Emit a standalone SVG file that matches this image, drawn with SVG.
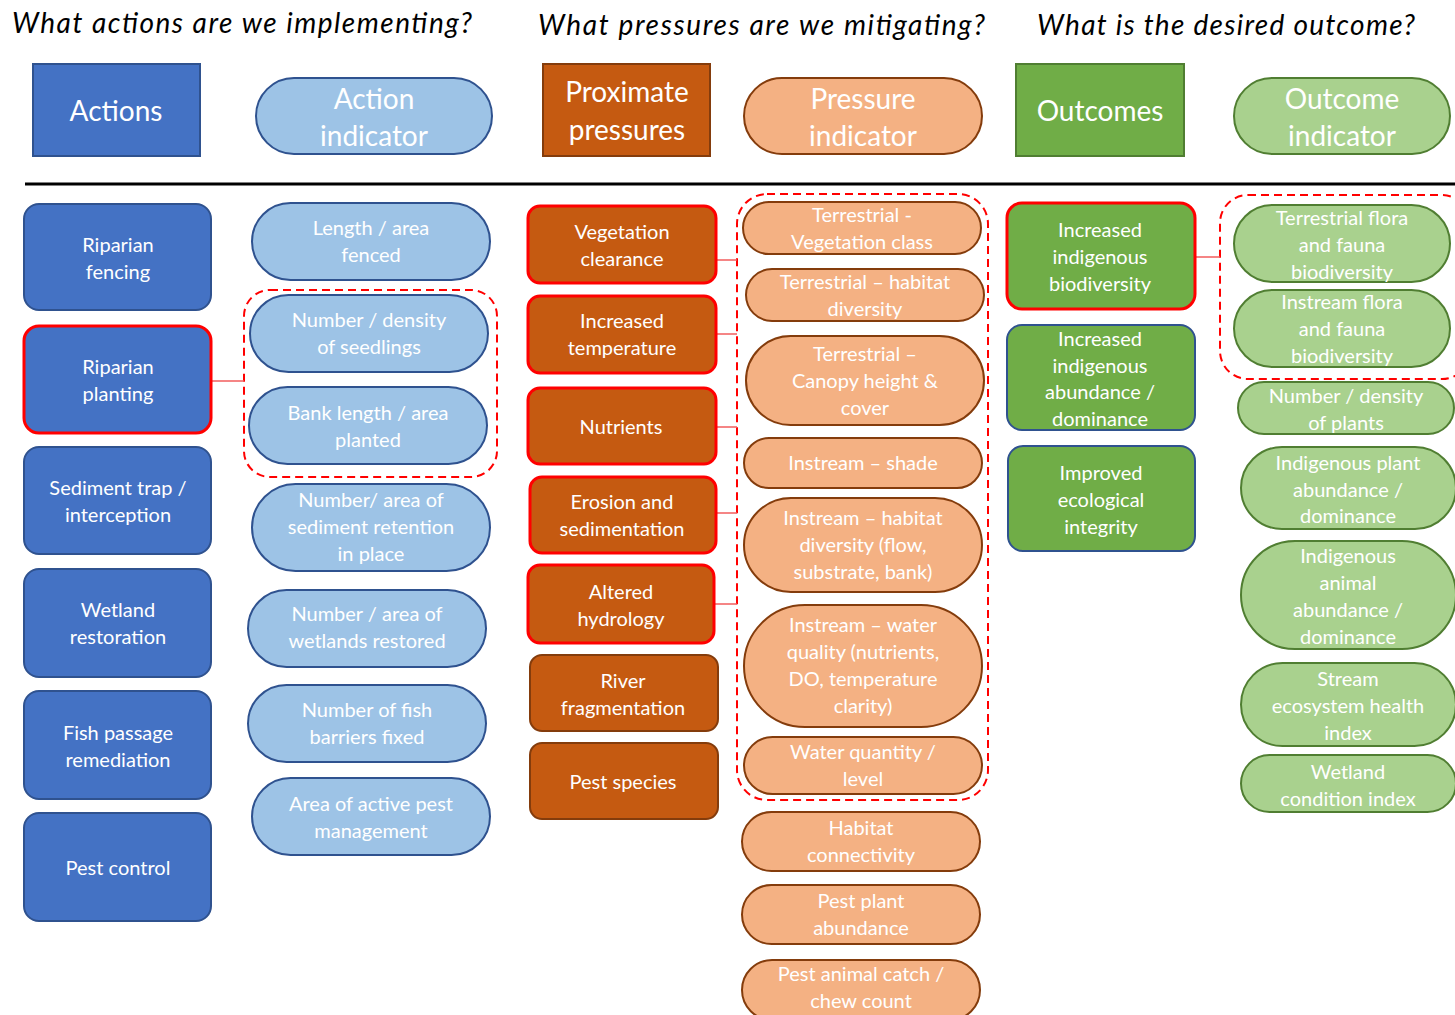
<svg xmlns="http://www.w3.org/2000/svg" width="1455" height="1015" viewBox="0 0 1455 1015">
<style>
.t{font-family:Lato,"Noto Sans","Liberation Sans",sans-serif;fill:#fff;text-anchor:middle;font-size:20px}
.h{font-size:28px}
.q{font-family:Lato,"Noto Sans","Liberation Sans",sans-serif;font-style:italic;font-size:28px;fill:#000}
.act{fill:#4472C4;stroke:#2F528F;stroke-width:2}
.ai{fill:#9DC3E6;stroke:#2F528F;stroke-width:2}
.pp{fill:#C55A11;stroke:#843C0C;stroke-width:2}
.pi{fill:#F4B183;stroke:#843C0C;stroke-width:2}
.oc{fill:#70AD47;stroke:#507E32;stroke-width:2}
.oi{fill:#A9D18E;stroke:#507E32;stroke-width:2}
.red{stroke:#FF0000;stroke-width:3}
.blu{stroke:#2F528F}
.grp{fill:none;stroke:#FF0000;stroke-width:2;stroke-dasharray:8 5}
.con{stroke:#F25C5C;stroke-width:1.5;fill:none}
</style>
<rect width="1455" height="1015" fill="#fff"/>
<g id="questions">
<text class="q" x="12" y="33" textLength="460" lengthAdjust="spacing">What actions are we implementing?</text>
<text class="q" x="538" y="35" textLength="447" lengthAdjust="spacing">What pressures are we mitigating?</text>
<text class="q" x="1037" y="35" textLength="378" lengthAdjust="spacing">What is the desired outcome?</text>
</g>
<g id="hdr-actions"><rect class="act" x="33" y="64" width="167" height="92"/><text class="t h" x="116" y="121">Actions</text></g>
<g id="hdr-action-indicator"><rect class="ai" x="256" y="78" width="236" height="76" rx="38"/><text class="t h"><tspan x="374" y="109">Action</tspan><tspan x="374" y="146">indicator</tspan></text></g>
<g id="hdr-proximate"><rect class="pp" x="543" y="64" width="167" height="92"/><text class="t h"><tspan x="627" y="102">Proximate</tspan><tspan x="627" y="140">pressures</tspan></text></g>
<g id="hdr-pressure-indicator"><rect class="pi" x="744" y="78" width="238" height="76" rx="38"/><text class="t h"><tspan x="863" y="109">Pressure</tspan><tspan x="863" y="146">indicator</tspan></text></g>
<g id="hdr-outcomes"><rect class="oc" x="1016" y="64" width="168" height="92"/><text class="t h" x="1100" y="121">Outcomes</text></g>
<g id="hdr-outcome-indicator"><rect class="oi" x="1234" y="78" width="216" height="76" rx="38"/><text class="t h"><tspan x="1342" y="109">Outcome</tspan><tspan x="1342" y="146">indicator</tspan></text></g>
<line x1="25" y1="184" x2="1455" y2="184" stroke="#000" stroke-width="3"/>

<g id="connectors">
<rect class="grp" x="244" y="290" width="253" height="187" rx="26"/>
<rect class="grp" x="737" y="194" width="251" height="606" rx="30"/>
<rect class="grp" x="1220" y="195" width="250" height="184" rx="28"/>
<line class="con" x1="212" y1="381" x2="244" y2="381"/>
<line class="con" x1="717" y1="260" x2="737" y2="260"/>
<line class="con" x1="717" y1="334" x2="737" y2="334"/>
<line class="con" x1="717" y1="427" x2="737" y2="427"/>
<line class="con" x1="717" y1="513" x2="737" y2="513"/>
<line class="con" x1="715" y1="604" x2="737" y2="604"/>
<line class="con" x1="1196" y1="257" x2="1220" y2="257"/>
</g>

<g id="a1"><rect class="act" x="24" y="204" width="187" height="106" rx="15"/><text class="t"><tspan x="118" y="252">Riparian</tspan><tspan x="118" y="279">fencing</tspan></text></g>
<g id="a2"><rect class="act red" x="24" y="326" width="187" height="107" rx="15"/><text class="t"><tspan x="118" y="374">Riparian</tspan><tspan x="118" y="401">planting</tspan></text></g>
<g id="a3"><rect class="act" x="24" y="447" width="187" height="107" rx="15"/><text class="t"><tspan x="118" y="495">Sediment trap /</tspan><tspan x="118" y="522">interception</tspan></text></g>
<g id="a4"><rect class="act" x="24" y="569" width="187" height="108" rx="15"/><text class="t"><tspan x="118" y="617">Wetland</tspan><tspan x="118" y="644">restoration</tspan></text></g>
<g id="a5"><rect class="act" x="24" y="691" width="187" height="108" rx="15"/><text class="t"><tspan x="118" y="740">Fish passage</tspan><tspan x="118" y="767">remediation</tspan></text></g>
<g id="a6"><rect class="act" x="24" y="813" width="187" height="108" rx="15"/><text class="t" x="118" y="875">Pest control</text></g>

<g id="ai1"><rect class="ai" x="252" y="203" width="238" height="77" rx="38.5"/><text class="t"><tspan x="371" y="235">Length / area</tspan><tspan x="371" y="262">fenced</tspan></text></g>
<g id="ai2"><rect class="ai" x="250" y="295" width="238" height="77" rx="38.5"/><text class="t"><tspan x="369" y="327">Number / density</tspan><tspan x="369" y="354">of seedlings</tspan></text></g>
<g id="ai3"><rect class="ai" x="249" y="387" width="238" height="77" rx="38.5"/><text class="t"><tspan x="368" y="420">Bank length / area</tspan><tspan x="368" y="447">planted</tspan></text></g>
<g id="ai4"><rect class="ai" x="252" y="484" width="238" height="87" rx="43.5"/><text class="t"><tspan x="371" y="507">Number/ area of</tspan><tspan x="371" y="534">sediment retention</tspan><tspan x="371" y="561">in place</tspan></text></g>
<g id="ai5"><rect class="ai" x="248" y="590" width="238" height="77" rx="38.5"/><text class="t"><tspan x="367" y="621">Number / area of</tspan><tspan x="367" y="648">wetlands restored</tspan></text></g>
<g id="ai6"><rect class="ai" x="248" y="685" width="238" height="77" rx="38.5"/><text class="t"><tspan x="367" y="717">Number of fish</tspan><tspan x="367" y="744">barriers fixed</tspan></text></g>
<g id="ai7"><rect class="ai" x="252" y="778" width="238" height="77" rx="38.5"/><text class="t"><tspan x="371" y="811">Area of active pest</tspan><tspan x="371" y="838">management</tspan></text></g>

<g id="p1"><rect class="pp red" x="528" y="206" width="188" height="77" rx="12"/><text class="t"><tspan x="622" y="239">Vegetation</tspan><tspan x="622" y="266">clearance</tspan></text></g>
<g id="p2"><rect class="pp red" x="528" y="296" width="188" height="77" rx="12"/><text class="t"><tspan x="622" y="328">Increased</tspan><tspan x="622" y="355">temperature</tspan></text></g>
<g id="p3"><rect class="pp red" x="528" y="388" width="188" height="76" rx="12"/><text class="t" x="621" y="434">Nutrients</text></g>
<g id="p4"><rect class="pp red" x="530" y="477" width="186" height="76" rx="12"/><text class="t"><tspan x="622" y="509">Erosion and</tspan><tspan x="622" y="536">sedimentation</tspan></text></g>
<g id="p5"><rect class="pp red" x="528" y="565" width="186" height="78" rx="12"/><text class="t"><tspan x="621" y="599">Altered</tspan><tspan x="621" y="626">hydrology</tspan></text></g>
<g id="p6"><rect class="pp" x="530" y="655" width="188" height="76" rx="12"/><text class="t"><tspan x="623" y="688">River</tspan><tspan x="623" y="715">fragmentation</tspan></text></g>
<g id="p7"><rect class="pp" x="530" y="743" width="188" height="76" rx="12"/><text class="t" x="623" y="789">Pest species</text></g>

<g id="pi1"><rect class="pi" x="743" y="202" width="238" height="52" rx="26"/><text class="t"><tspan x="862" y="222">Terrestrial -</tspan><tspan x="862" y="249">Vegetation class</tspan></text></g>
<g id="pi2"><rect class="pi" x="746" y="269" width="238" height="52" rx="26"/><text class="t"><tspan x="865" y="289">Terrestrial – habitat</tspan><tspan x="865" y="316">diversity</tspan></text></g>
<g id="pi3"><rect class="pi" x="746" y="336" width="238" height="89" rx="44.5"/><text class="t"><tspan x="865" y="361">Terrestrial –</tspan><tspan x="865" y="388">Canopy height &amp;</tspan><tspan x="865" y="415">cover</tspan></text></g>
<g id="pi4"><rect class="pi" x="744" y="438" width="238" height="50" rx="25"/><text class="t" x="863" y="470">Instream – shade</text></g>
<g id="pi5"><rect class="pi" x="744" y="498" width="238" height="94" rx="47"/><text class="t"><tspan x="863" y="525">Instream – habitat</tspan><tspan x="863" y="552">diversity (flow,</tspan><tspan x="863" y="579">substrate, bank)</tspan></text></g>
<g id="pi6"><rect class="pi" x="744" y="605" width="238" height="122" rx="61"/><text class="t"><tspan x="863" y="632">Instream –  water</tspan><tspan x="863" y="659">quality (nutrients,</tspan><tspan x="863" y="686">DO, temperature</tspan><tspan x="863" y="713">clarity)</tspan></text></g>
<g id="pi7"><rect class="pi" x="744" y="737" width="238" height="57" rx="28.5"/><text class="t"><tspan x="863" y="759">Water quantity /</tspan><tspan x="863" y="786">level</tspan></text></g>
<g id="pi8"><rect class="pi" x="742" y="812" width="238" height="59" rx="29.5"/><text class="t"><tspan x="861" y="835">Habitat</tspan><tspan x="861" y="862">connectivity</tspan></text></g>
<g id="pi9"><rect class="pi" x="742" y="885" width="238" height="59" rx="29.5"/><text class="t"><tspan x="861" y="908">Pest plant</tspan><tspan x="861" y="935">abundance</tspan></text></g>
<g id="pi10"><rect class="pi" x="742" y="960" width="238" height="60" rx="30"/><text class="t"><tspan x="861" y="981">Pest animal catch /</tspan><tspan x="861" y="1008">chew count</tspan></text></g>

<g id="o1"><rect class="oc red" x="1007" y="203" width="188" height="106" rx="15"/><text class="t"><tspan x="1100" y="237">Increased</tspan><tspan x="1100" y="264">indigenous</tspan><tspan x="1100" y="291">biodiversity</tspan></text></g>
<g id="o2"><rect class="oc blu" x="1007" y="325" width="188" height="105" rx="15"/><text class="t"><tspan x="1100" y="346">Increased</tspan><tspan x="1100" y="373">indigenous</tspan><tspan x="1100" y="399">abundance /</tspan><tspan x="1100" y="426">dominance</tspan></text></g>
<g id="o3"><rect class="oc blu" x="1008" y="446" width="187" height="105" rx="15"/><text class="t"><tspan x="1101" y="480">Improved</tspan><tspan x="1101" y="507">ecological</tspan><tspan x="1101" y="534">integrity</tspan></text></g>

<g id="oi1"><rect class="oi" x="1234" y="205" width="216" height="77" rx="38.5"/><text class="t"><tspan x="1342" y="225">Terrestrial flora</tspan><tspan x="1342" y="252">and fauna</tspan><tspan x="1342" y="279">biodiversity</tspan></text></g>
<g id="oi2"><rect class="oi" x="1234" y="290" width="216" height="77" rx="38.5"/><text class="t"><tspan x="1342" y="309">Instream flora</tspan><tspan x="1342" y="336">and fauna</tspan><tspan x="1342" y="363">biodiversity</tspan></text></g>
<g id="oi3"><rect class="oi" x="1238" y="382" width="216" height="52" rx="26"/><text class="t"><tspan x="1346" y="403">Number / density</tspan><tspan x="1346" y="430">of plants</tspan></text></g>
<g id="oi4"><rect class="oi" x="1241" y="447" width="215" height="82" rx="41"/><text class="t"><tspan x="1348" y="470">Indigenous plant</tspan><tspan x="1348" y="497">abundance /</tspan><tspan x="1348" y="523">dominance</tspan></text></g>
<g id="oi5"><rect class="oi" x="1241" y="541" width="215" height="108" rx="54"/><text class="t"><tspan x="1348" y="563">Indigenous</tspan><tspan x="1348" y="590">animal</tspan><tspan x="1348" y="617">abundance /</tspan><tspan x="1348" y="644">dominance</tspan></text></g>
<g id="oi6"><rect class="oi" x="1241" y="663" width="215" height="83" rx="41.5"/><text class="t"><tspan x="1348" y="686">Stream</tspan><tspan x="1348" y="713">ecosystem health</tspan><tspan x="1348" y="740">index</tspan></text></g>
<g id="oi7"><rect class="oi" x="1241" y="755" width="215" height="57" rx="28.5"/><text class="t"><tspan x="1348" y="779">Wetland</tspan><tspan x="1348" y="806">condition index</tspan></text></g>
</svg>
